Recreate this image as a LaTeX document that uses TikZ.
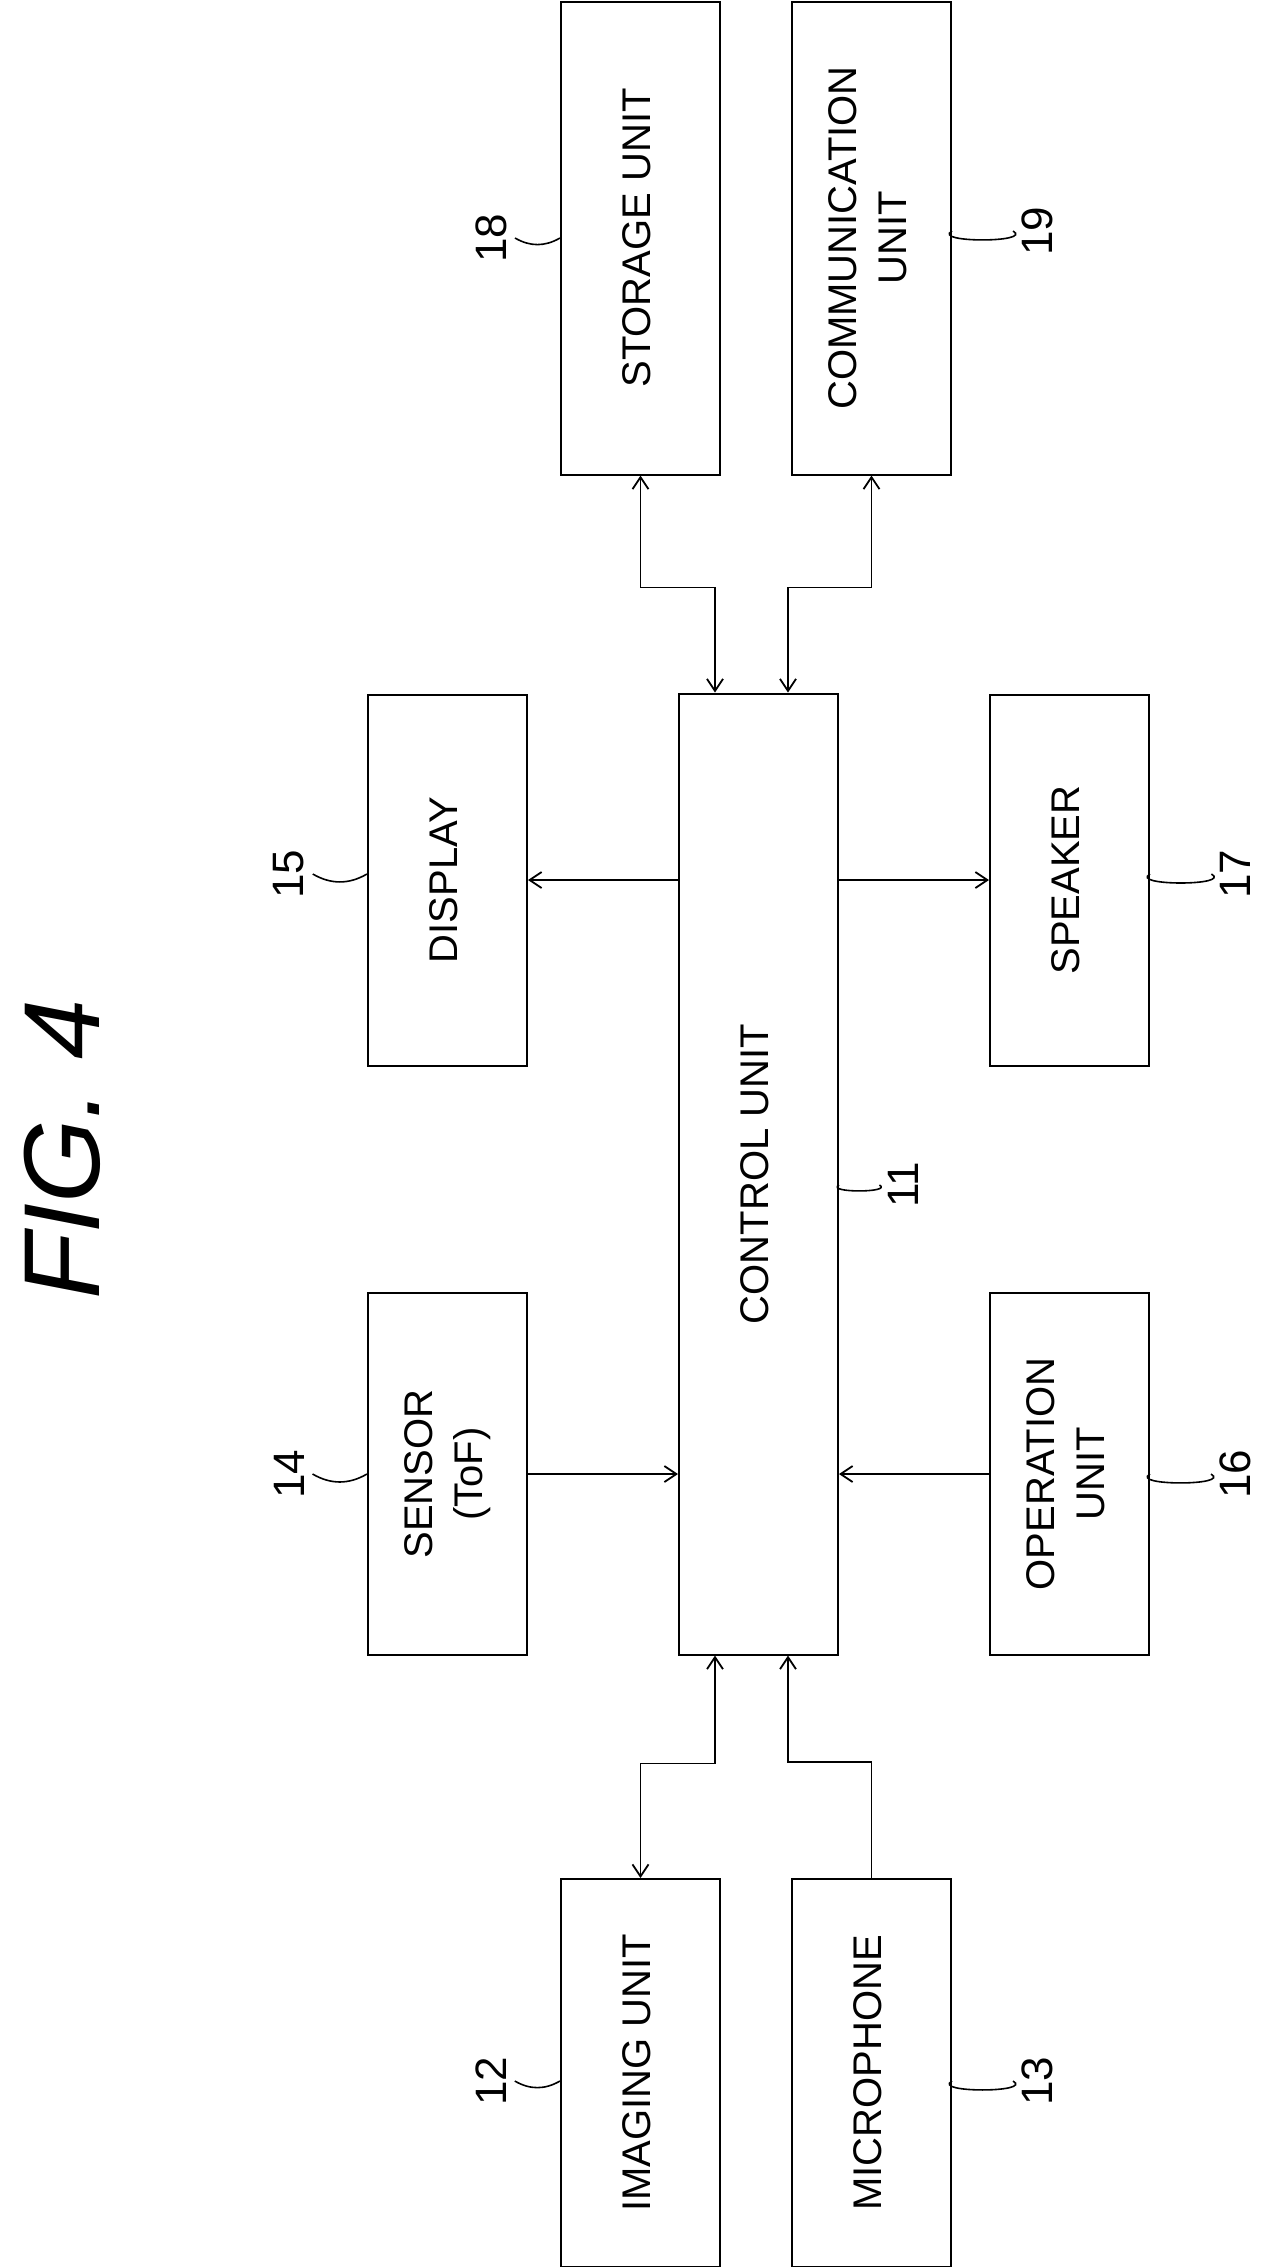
\documentclass[tikz,border=0pt]{standalone}
\usepackage{fontspec}
\setmainfont{Liberation Sans}
\usetikzlibrary{arrows.meta,calc}
\newcommand{\vtext}[1]{\rotatebox{90}{\begin{tabular}{@{}c@{}}#1\end{tabular}}}
\begin{document}
\begin{tikzpicture}[x=0.5pt,y=-0.5pt,
    box/.style={draw,line width=1pt,minimum width=79.5pt,inner sep=0pt,
      font=\fontsize{20}{25}\selectfont},
    ref/.style={inner sep=4pt,font=\fontsize{22}{24}\selectfont},
    link/.style={line width=0.9pt,-{Straight Barb[length=6pt,width=8pt]}},
    dual/.style={link,{Straight Barb[length=6pt,width=8pt]}-{Straight Barb[length=6pt,width=8pt]}},
    squig/.style={line width=0.8pt}]
  \useasboundingbox (0,0) rectangle (1272,2267);
  % title
  \node[font=\fontsize{54}{60}\selectfont\itshape] (title) at (62,1149) {\rotatebox{90}{FIG. 4}};
  % blocks
  \node[box,minimum height=236.5pt] (storage) at (640.5,238) {\vtext{STORAGE UNIT}};
  \node[box,minimum height=236.5pt] (comm) at (871.5,238) {\vtext{COMMUNICATION\\UNIT}};
  \node[box,minimum height=185.5pt] (display) at (447.5,880) {\vtext{DISPLAY}};
  \node[box,minimum height=480.5pt] (ctrl) at (758.5,1174) {\vtext{CONTROL UNIT}};
  \node[box,minimum height=185.5pt] (speaker) at (1069.5,880) {\vtext{SPEAKER}};
  \node[box,minimum height=181pt] (sensor) at (447.5,1474) {\vtext{SENSOR\\(ToF)}};
  \node[box,minimum height=181pt] (operation) at (1069.5,1474) {\vtext{OPERATION\\UNIT}};
  \node[box,minimum height=194pt] (imaging) at (640.5,2073) {\vtext{IMAGING UNIT}};
  \node[box,minimum height=194pt] (mic) at (871.5,2073) {\vtext{MICROPHONE}};
  % reference numerals
  \node[ref] (n18) at (491,238) {\rotatebox{90}{18}};
  \node[ref] (n19) at (1037,231) {\rotatebox{90}{19}};
  \node[ref] (n15) at (289,874) {\rotatebox{90}{15}};
  \node[ref] (n17) at (1235,874) {\rotatebox{90}{17}};
  \node[ref] (n11) at (903,1185) {\rotatebox{90}{11}};
  \node[ref] (n14) at (289,1474) {\rotatebox{90}{14}};
  \node[ref] (n16) at (1235,1474) {\rotatebox{90}{16}};
  \node[ref] (n12) at (491,2081) {\rotatebox{90}{12}};
  \node[ref] (n13) at (1037,2081) {\rotatebox{90}{13}};
  \draw[squig] (n18.east) to[out=-30,in=210] (storage.west |- n18.east);
  \draw[squig] (n19.west) to[out=-30,in=210] (comm.east |- n19.west);
  \draw[squig] (n15.east) to[out=-30,in=210] (display.west |- n15.east);
  \draw[squig] (n17.west) to[out=-30,in=210] (speaker.east |- n17.west);
  \draw[squig] (n11.west) to[out=-30,in=210] (ctrl.east |- n11.west);
  \draw[squig] (n14.east) to[out=-30,in=210] (sensor.west |- n14.east);
  \draw[squig] (n16.west) to[out=-30,in=210] (operation.east |- n16.west);
  \draw[squig] (n12.east) to[out=-30,in=210] (imaging.west |- n12.east);
  \draw[squig] (n13.west) to[out=-30,in=210] (mic.east |- n13.west);
  % connectors
  \draw[dual] (storage.south) -- ++(0,112) -| ($(ctrl.north)+(-43.5,0)$);
  \draw[dual] (comm.south) -- ++(0,112) -| ($(ctrl.north)+(29.5,0)$);
  \draw[link] (ctrl.west |- display.east) -- (display.east);
  \draw[link] (ctrl.east |- speaker.west) -- (speaker.west);
  \draw[link] (sensor.east) -- (sensor.east -| ctrl.west);
  \draw[link] (operation.west) -- (operation.west -| ctrl.east);
  \draw[dual] ($(ctrl.south)+(-43.5,0)$) -- ++(0,108) -| (imaging.north);
  \draw[link] (mic.north) -- ++(0,-116) -| ($(ctrl.south)+(29.5,0)$);
\end{tikzpicture}
\end{document}
